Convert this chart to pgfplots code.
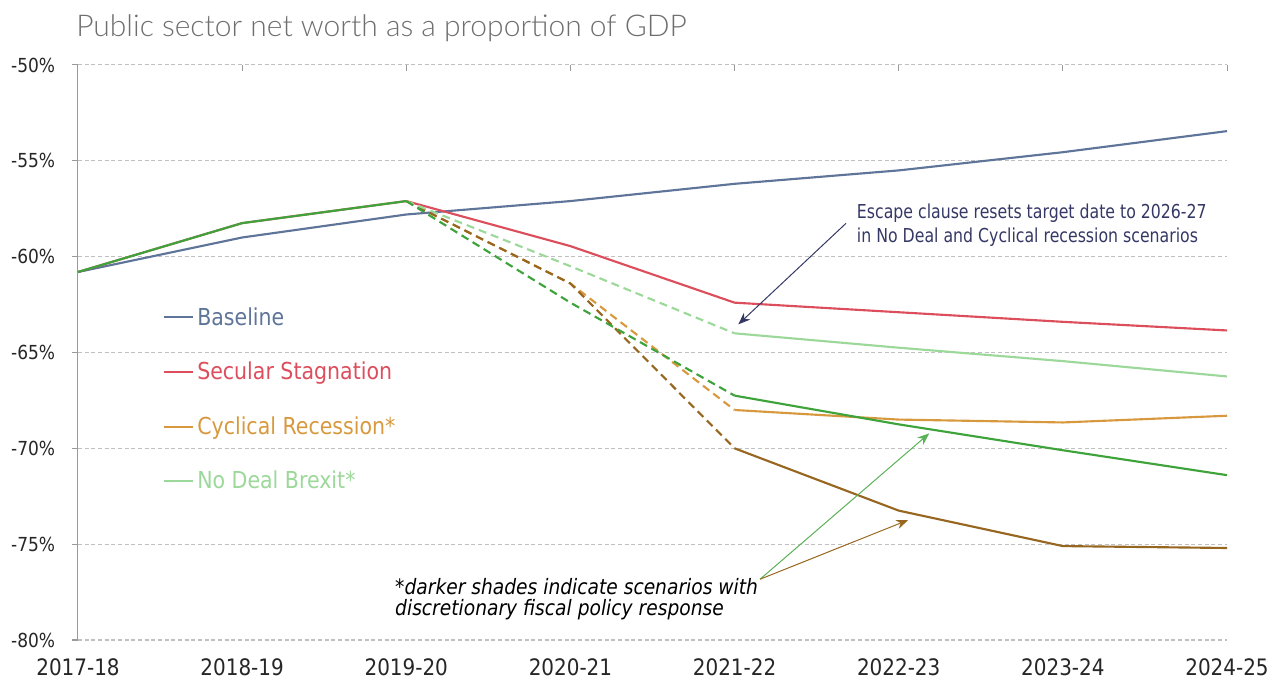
\documentclass[border=0pt]{standalone}
\usepackage{fontspec}
\setmainfont{DejaVu Sans}[FakeStretch=0.88]
\newfontfamily\titlefont{Lato Light}
\newfontfamily\notefont{DejaVu Sans}[FakeStretch=0.82]
\usepackage{pgfplots}
\pgfplotsset{compat=1.18}
\usetikzlibrary{arrows.meta}

\definecolor{baseclr}{HTML}{5F7499}
\definecolor{secular}{HTML}{DC4E5C}
\definecolor{cyclical}{HTML}{D8993E}
\definecolor{cycpol}{HTML}{976721}
\definecolor{nodeal}{HTML}{9CD89A}
\definecolor{ndpol}{HTML}{3DA33A}
\definecolor{navy}{HTML}{353865}
\definecolor{titlegray}{HTML}{6E6E6E}
\definecolor{ticktext}{HTML}{262626}
\definecolor{gridgray}{HTML}{C0C0C0}

\begin{document}
\begin{tikzpicture}
\begin{axis}[
    scale only axis,
    width=861.75pt, height=431.25pt,
    xmin=0, xmax=7, ymin=-80, ymax=-50,
    clip=false,
    axis line style={draw=none},
    xtick={0,...,7},
    xticklabels={2017-18,2018-19,2019-20,2020-21,2021-22,2022-23,2023-24,2024-25},
    ytick={-80,-75,-70,-65,-60,-55,-50},
    yticklabels={-80\%,-75\%,-70\%,-65\%,-60\%,-55\%,-50\%},
    xtick style={draw=none},
    ytick pos=left,
    ytick style={draw=gridgray!80!black, line width=0.75pt},
    tick align=outside,
    major tick length=4.5pt,
    ymajorgrids=true,
    major grid style={gridgray, line width=0.75pt, dash pattern=on 3pt off 2pt},
    yticklabel style={font=\fontsize{14.5pt}{16pt}\selectfont, text=ticktext, inner sep=0pt, xshift=-12.5pt},
    xticklabel style={font=\fontsize{17pt}{20pt}\selectfont, text=ticktext, inner sep=0pt, yshift=-9pt},
    every axis plot/.append style={line width=1.6pt},
]
% left axis line and top ticks
\draw[gridgray!80!black, line width=0.75pt] (rel axis cs:0,0) -- (rel axis cs:0,1);
\pgfplotsinvokeforeach{1,...,7}{
  \draw[gridgray!80!black, line width=0.75pt] (axis cs:#1,-50) -- (axis cs:#1,-50.31);
}

\addplot[baseclr] coordinates {(0,-60.8) (1,-59.0) (2,-57.8) (3,-57.1) (4,-56.2) (5,-55.5) (6,-54.55) (7,-53.45)};
\addplot[secular] coordinates {(0,-60.8) (1,-58.25) (2,-57.1) (3,-59.45) (4,-62.4) (5,-62.9) (6,-63.4) (7,-63.85)};

% cyclical recession
\addplot[cyclical, dash pattern=on 6pt off 3.75pt] coordinates {(2,-57.1) (3,-61.4) (4,-68.0)};
\addplot[cyclical] coordinates {(4,-68.0) (5,-68.5) (6,-68.65) (7,-68.3)};
% cyclical recession with policy response
\addplot[cycpol, dash pattern=on 6pt off 3.75pt] coordinates {(2,-57.1) (3,-61.4) (4,-70.0)};
\addplot[cycpol] coordinates {(4,-70.0) (5,-73.25) (6,-75.1) (7,-75.2)};
% no deal
\addplot[nodeal, dash pattern=on 6pt off 3.75pt] coordinates {(2,-57.1) (3,-60.5) (4,-64.0)};
\addplot[nodeal] coordinates {(4,-64.0) (5,-64.75) (6,-65.45) (7,-66.25)};
% no deal with policy response
\addplot[ndpol, dash pattern=on 6pt off 3.75pt] coordinates {(2,-57.1) (3,-62.4) (4,-67.25)};
\addplot[ndpol] coordinates {(4,-67.25) (5,-68.75) (6,-70.1) (7,-71.4)};
\addplot[ndpol] coordinates {(0,-60.8) (1,-58.25) (2,-57.1)};

% legend
\draw[baseclr, line width=1.6pt] (axis cs:0.524,-63.13) -- (axis cs:0.701,-63.13);
\node[anchor=base west, inner sep=0pt, text=baseclr, font=\fontsize{17.5pt}{20pt}\selectfont] at (axis cs:0.725,-63.57) {Baseline};
\draw[secular, line width=1.6pt] (axis cs:0.524,-66.0) -- (axis cs:0.701,-66.0);
\node[anchor=base west, inner sep=0pt, text=secular, font=\fontsize{17.5pt}{20pt}\selectfont] at (axis cs:0.725,-66.43) {Secular Stagnation};
\draw[cyclical, line width=1.6pt] (axis cs:0.524,-68.87) -- (axis cs:0.701,-68.87);
\node[anchor=base west, inner sep=0pt, text=cyclical, font=\fontsize{17.5pt}{20pt}\selectfont] at (axis cs:0.725,-69.30) {Cyclical Recession*};
\draw[nodeal, line width=1.6pt] (axis cs:0.524,-71.69) -- (axis cs:0.701,-71.69);
\node[anchor=base west, inner sep=0pt, text=nodeal, font=\fontsize{17.5pt}{20pt}\selectfont] at (axis cs:0.725,-72.12) {No Deal Brexit*};

% annotations
\node[anchor=base west, inner sep=0pt, text=navy, font=\notefont\fontsize{14.4pt}{16pt}\selectfont] at (axis cs:4.744,-58.0) {Escape clause resets target date to 2026-27};
\node[anchor=base west, inner sep=0pt, text=navy, font=\notefont\fontsize{14.4pt}{16pt}\selectfont] at (axis cs:4.744,-59.27) {in No Deal and Cyclical recession scenarios};
\draw[navy, line width=0.75pt, -{Stealth[length=9pt,width=7pt]}] (axis cs:4.679,-58.26) -- (axis cs:4.023,-63.53);

\node[anchor=base west, inner sep=0pt, text=black, font=\fontsize{15.9pt}{18pt}\itshape] at (axis cs:1.931,-77.62) {*darker shades indicate scenarios with};
\node[anchor=base west, inner sep=0pt, text=black, font=\fontsize{15.9pt}{18pt}\itshape] at (axis cs:1.931,-78.70) {discretionary fiscal policy response};
\draw[ndpol!85!white, line width=0.75pt, -{Stealth[length=9pt,width=7pt]}] (axis cs:4.155,-76.83) -- (axis cs:5.186,-69.22);
\draw[cycpol, line width=0.75pt, -{Stealth[length=9pt,width=7pt]}] (axis cs:4.155,-76.83) -- (axis cs:5.058,-73.74);

% title
\node[anchor=base west, inner sep=0pt, text=titlegray, font=\titlefont\fontsize{22.5pt}{25pt}\selectfont] at (axis cs:-0.012,-48.52) {Public sector net worth as a proportion of GDP};
\end{axis}
\pgfresetboundingbox
\path (-58.5pt,-30.75pt) rectangle (901.5pt,480pt);
\end{tikzpicture}
\end{document}
